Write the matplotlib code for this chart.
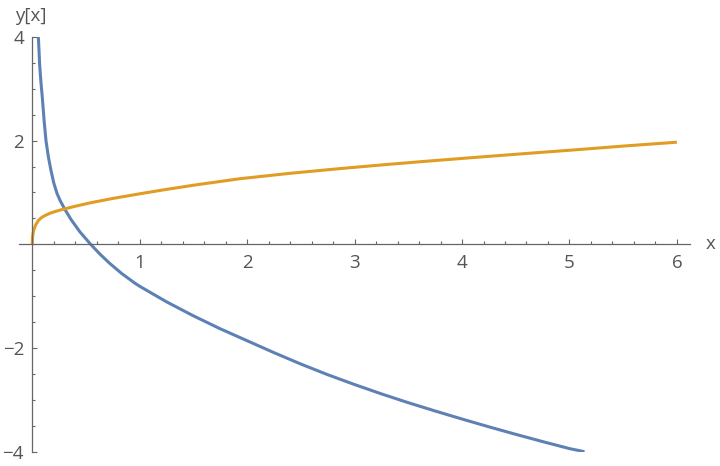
import matplotlib
matplotlib.use("Agg")
import matplotlib.pyplot as plt
from matplotlib.ticker import MultipleLocator, FixedLocator

plt.rcParams['font.family'] = ['Open Sans', 'DejaVu Sans']

# values
blue_x = [0.056, 0.062, 0.068, 0.08, 0.093, 0.11, 0.127, 0.15, 0.174, 0.2, 0.23, 0.26,
          0.304, 0.36, 0.443, 0.543, 0.63, 0.722, 0.83, 0.955, 1.0, 1.25, 1.5, 1.75,
          2.0, 2.25, 2.5, 2.75, 3.0, 3.25, 3.5, 3.75, 4.0, 4.25, 4.5, 4.75, 5.0, 5.14]
blue_y = [4.0, 3.75, 3.47, 3.13, 2.83, 2.38, 2.0, 1.68, 1.42, 1.18, 0.98, 0.84,
          0.67, 0.48, 0.24, 0.0, -0.19, -0.37, -0.56, -0.75, -0.81, -1.11, -1.38, -1.63,
          -1.86, -2.09, -2.31, -2.515, -2.705, -2.885, -3.055, -3.215, -3.37, -3.52,
          -3.665, -3.805, -3.94, -4.0]

orange_x = [0.0, 0.001, 0.004, 0.012, 0.03, 0.056, 0.085, 0.118, 0.17, 0.24, 0.304, 0.4,
            0.55, 0.75, 1.0, 1.25, 1.5, 1.93, 2.4, 2.86, 3.3, 3.61, 4.0, 4.35, 4.7, 5.1,
            5.5, 6.0]
orange_y = [0.0, 0.10, 0.17, 0.27, 0.37, 0.46, 0.515, 0.555, 0.605, 0.65, 0.685, 0.735,
            0.805, 0.885, 0.975, 1.06, 1.14, 1.265, 1.37, 1.46, 1.54, 1.593, 1.657, 1.713,
            1.768, 1.83, 1.895, 1.97]

xticks = [1, 2, 3, 4, 5, 6]
yticks = [-4, -2, 2, 4]

grey = '#666666'
txt = '#555555'

fig = plt.figure(figsize=(7.2, 4.66), dpi=100)
ax = fig.add_axes([0.027, 0.0307, 0.931, 0.890])

ax.plot(blue_x, blue_y, color='#5E81B5', lw=2.2, solid_capstyle='butt', solid_joinstyle='round')
ax.plot(orange_x, orange_y, color='#E19C24', lw=2.2, solid_capstyle='butt', solid_joinstyle='round')

ax.set_xlim(-0.12, 6.12)
ax.set_ylim(-4, 4)

for s in ['top', 'right']:
    ax.spines[s].set_visible(False)
ax.spines['left'].set_position(('data', 0))
ax.spines['bottom'].set_position(('data', 0))
for s in ['left', 'bottom']:
    ax.spines[s].set_color(grey)
    ax.spines[s].set_linewidth(0.9)

ax.xaxis.set_major_locator(FixedLocator(xticks))
ax.xaxis.set_minor_locator(MultipleLocator(0.2))
ax.yaxis.set_major_locator(FixedLocator(yticks))
ax.yaxis.set_minor_locator(MultipleLocator(0.5))
ax.set_xticklabels([str(t) for t in xticks])
ax.set_yticklabels([str(t).replace('-', '\u2212') for t in yticks])

ax.tick_params(which='both', direction='in', color=grey, width=0.8,
               labelcolor=txt, labelsize=13.5)
ax.tick_params(which='major', length=3.5)
ax.tick_params(which='minor', length=2)
ax.tick_params(axis='x', pad=7)
ax.tick_params(axis='y', pad=6)

ax.text(-0.165, 4.30, 'y[x]', fontsize=13.5, color=txt, ha='left', va='baseline')
ax.text(6.27, 0, 'x', fontsize=13.5, color=txt, ha='left', va='center')

fig.savefig('out.png', dpi=100)
